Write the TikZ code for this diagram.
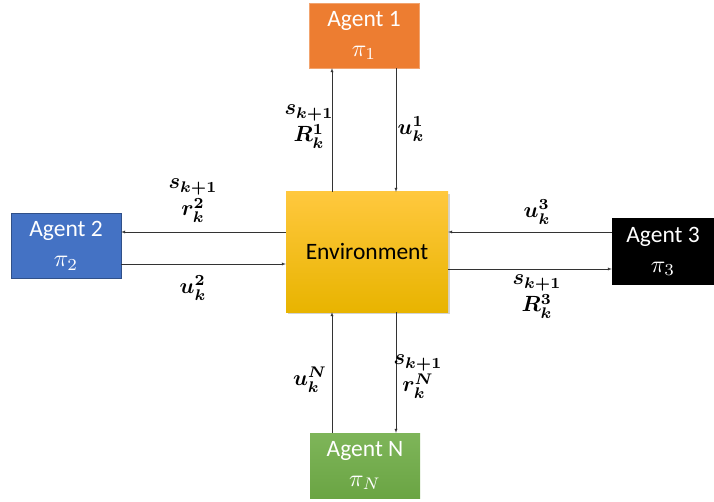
\documentclass[tikz,border=0pt]{standalone}
\usepackage{amsmath,amssymb}
\usepackage{graphicx}
\usepackage{fontspec}
\setmainfont{Carlito}
\usetikzlibrary{shadows}
\definecolor{agorange}{RGB}{237,125,49}
\definecolor{agblue}{RGB}{68,114,196}
\definecolor{aggreen}{RGB}{112,173,71}
\definecolor{envtop}{RGB}{255,200,62}
\definecolor{envmid}{RGB}{255,192,0}
\definecolor{envbot}{RGB}{232,180,0}
\tikzset{
  agent/.style={minimum width=110pt, minimum height=65pt, inner sep=0pt, text=white,
    font=\fontsize{23.5}{30}\selectfont, align=center},
  env/.style={minimum width=162pt, minimum height=120pt, inner sep=0pt,
    top color=envtop, middle color=envmid, bottom color=envbot,
    drop shadow={opacity=0.35, shadow xshift=2pt, shadow yshift=-2pt},
    font=\fontsize{23.5}{28}\selectfont},
  flow/.style={-latex, thin, black!80},
  lbl/.style={font=\fontsize{20}{25}\selectfont, align=center, inner sep=0pt},
}
\newcommand{\bmath}[1]{\scalebox{2.2}{\normalsize$\boldsymbol{#1}$}}
\newcommand{\pmath}[1]{\scalebox{2.4}{\normalsize$#1$}}
\newcommand{\twolines}[2]{\bmath{#1}\\[2pt]\bmath{#2}}

\begin{document}
\begin{tikzpicture}[x=1pt,y=-1pt]
  \useasboundingbox (0,0) rectangle (714,502);
  % boxes
  \node[env] (env) at (367,252) {Environment};
  \node[agent, fill=agorange, draw=agorange!70!white] (a1) at (364,35.5) {Agent 1\\\pmath{\pi_1}};
  \node[agent, fill=agblue, draw=agblue!70!black] (a2) at (66,246) {Agent 2\\\pmath{\pi_2}};
  \node[agent, fill=black, minimum width=102pt, minimum height=67pt] (a3) at (663,251.5) {Agent 3\\\pmath{\pi_3}};
  \node[agent, top color=aggreen!90!white, bottom color=aggreen!95!black] (aN) at (365,465.5) {Agent N\\\pmath{\pi_N}};
  % agent 1
  \draw[flow] (env.north -| 332,0) -- (a1.south -| 332,0);
  \draw[flow] (a1.south -| 396,0) -- (env.north -| 396,0);
  % agent 2
  \draw[flow] (env.west |- 0,232) -- (a2.east |- 0,232);
  \draw[flow] (a2.east |- 0,264) -- (env.west |- 0,264);
  % agent 3
  \draw[flow] (a3.west |- 0,232) -- (env.east |- 0,232);
  \draw[flow] (env.east |- 0,269) -- (a3.west |- 0,269);
  % agent N
  \draw[flow] (aN.north -| 332,0) -- (env.south -| 332,0);
  \draw[flow] (env.south -| 396,0) -- (aN.north -| 396,0);
  % labels
  \node[lbl] (l1a) at (309,127) {\twolines{s_{k+1}}{R_k^1}};
  \node[lbl] (l1b) at (411,129) {\bmath{u_k^1}};
  \node[lbl] (l2a) at (193,201) {\twolines{s_{k+1}}{r_k^2}};
  \node[lbl] (l2b) at (193,288) {\bmath{u_k^2}};
  \node[lbl] (l3a) at (537,212) {\bmath{u_k^3}};
  \node[lbl] (l3b) at (537,297) {\twolines{s_{k+1}}{R_k^3}};
  \node[lbl] (lNa) at (310,380) {\bmath{u_k^N}};
  \node[lbl] (lNb) at (418,377) {\twolines{s_{k+1}}{r_k^N}};
\end{tikzpicture}
\end{document}
